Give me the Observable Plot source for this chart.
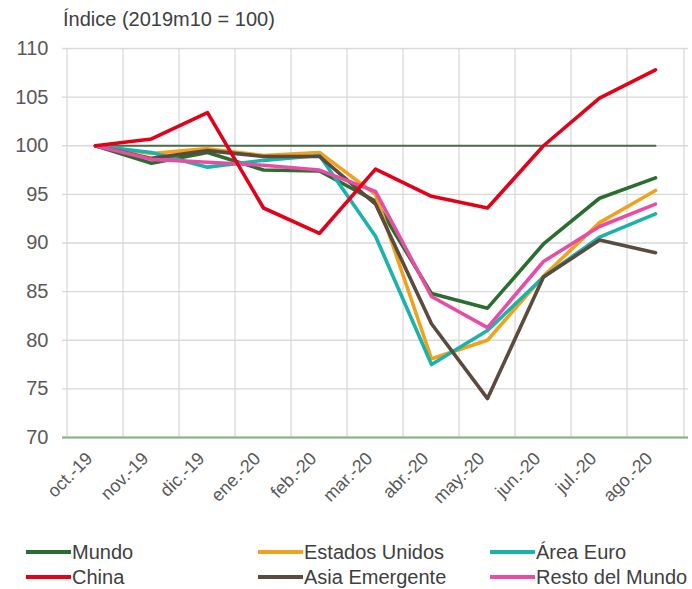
<!DOCTYPE html>
<html><head><meta charset="utf-8">
<script src="https://cdn.jsdelivr.net/npm/d3@7"></script>
<script src="https://cdn.jsdelivr.net/npm/@observablehq/plot@0.6"></script>
<style>
body{margin:0;background:#fff;font-family:"Liberation Sans",Arial,sans-serif;}
#wrap{position:relative;width:692px;height:589px;overflow:hidden;}
#title{position:absolute;left:63px;top:8px;font-size:20px;color:#404040;white-space:nowrap;}
#chart{position:absolute;left:0;top:36px;}
#chart g[aria-label^="x-axis"] text{font-size:18px;}
.leg{position:absolute;font-size:20px;color:#404040;display:flex;align-items:center;white-space:nowrap;height:24px;}
.sw{width:45px;height:4px;display:inline-block;margin-right:1px;}
</style></head>
<body><div id="wrap"><div id="title">Índice (2019m10 = 100)</div><div id="chart"></div><div id="legend"></div></div>
<script>
const months = ["oct.-19","nov.-19","dic.-19","ene.-20","feb.-20","mar.-20","abr.-20","may.-20","jun.-20","jul.-20","ago.-20"];
const yTicks = [70,75,80,85,90,95,100,105,110];
const base = [100,100,100,100,100,100,100,100,100,100,100];
const seriesNames = ["Mundo","China","Estados Unidos","Asia Emergente","Área Euro","Resto del Mundo"];
const seriesColors = ["#2a6e2f","#e2001a","#f0a21c","#5b4a3e","#19b3ab","#e84da6"];
const mundo         = [100, 98.2, 99.3, 97.5, 97.4, 94.3, 84.8, 83.3, 89.9, 94.6, 96.7];
const china         = [100,100.7,103.4, 93.6, 91.0, 97.6, 94.8, 93.6,100.0,104.9,107.8];
const estadosUnidos = [100, 99.2, 99.7, 99.0, 99.3, 95.0, 78.1, 80.0, 86.6, 92.1, 95.4];
const areaEuro      = [100, 99.3, 97.8, 98.5, 99.0, 90.7, 77.5, 81.0, 86.5, 90.6, 93.0];
const asiaEmergente = [100, 98.7, 99.5, 98.9, 98.9, 94.0, 81.7, 74.0, 86.5, 90.3, 89.0];
const restoMundo    = [100, 98.6, 98.3, 98.0, 97.5, 95.3, 84.5, 81.3, 88.1, 91.7, 94.0];

const seriesValues = {"Mundo":mundo,"China":china,"Estados Unidos":estadosUnidos,"Asia Emergente":asiaEmergente,"Área Euro":areaEuro,"Resto del Mundo":restoMundo};
const drawOrder = ["Mundo","Estados Unidos","Área Euro","Asia Emergente","Resto del Mundo","China"];
const rows = [];
for (const s of drawOrder) seriesValues[s].forEach((v,i)=>rows.push({serie:s, month:months[i], value:v}));
const baseRows = base.map((v,i)=>({month:months[i], value:v}));

const W = 692, H = 500, mL = 62, mR = 4;
const step = (W - mL - mR) / months.length;

const chart = Plot.plot({
  width: W, height: H,
  marginLeft: mL, marginRight: mR, marginTop: 12, marginBottom: 99,
  style: {fontFamily: '"Liberation Sans", Arial, sans-serif', fontSize: "20px", color: "#595959", background: "white"},
  x: {type: "point", domain: months, padding: 0.5, label: null, tickSize: 0, tickPadding: 14, tickRotate: -45},
  y: {domain: [70, 110], ticks: yTicks, label: null, tickSize: 0, tickPadding: 14},
  color: {domain: seriesNames, range: seriesColors},
  marks: [
    Plot.ruleY(yTicks, {stroke: "#d9d9d9", strokeWidth: 1.3}),
    Plot.ruleX(months, {dx: -step/2, stroke: "#d9d9d9", strokeWidth: 1.3}),
    Plot.ruleX([months[months.length-1]], {dx: step/2, stroke: "#d9d9d9", strokeWidth: 1.3}),
    Plot.ruleY([yTicks[0]], {stroke: "#7db57a", strokeWidth: 2}),
    Plot.line(baseRows, {x: "month", y: "value", stroke: "#4d6b4d", strokeWidth: 2}),
    Plot.line(rows, {x: "month", y: "value", z: "serie", stroke: "serie", strokeWidth: 3.6, strokeLinejoin: "round"})
  ]
});
const xAxis = chart.querySelector('g[aria-label^="x-axis"]');
if (xAxis) {
  const t = xAxis.getAttribute("transform") || "";
  xAxis.setAttribute("transform", (t + " translate(-6,4)").trim());
}
document.getElementById("chart").appendChild(chart);

const legPos = [[26,540],[258,540],[490,540],[26,565],[258,565],[490,565]];
const legOrder = ["Mundo","Estados Unidos","Área Euro","China","Asia Emergente","Resto del Mundo"];
const legend = document.getElementById("legend");
legOrder.forEach((s,i)=>{
  const d = document.createElement("div");
  d.className = "leg";
  d.style.left = legPos[i][0] + "px";
  d.style.top = legPos[i][1] + "px";
  const sw = document.createElement("span");
  sw.className = "sw";
  sw.style.background = seriesColors[seriesNames.indexOf(s)];
  d.appendChild(sw);
  d.appendChild(document.createTextNode(s));
  legend.appendChild(d);
});
</script>
</body></html>
